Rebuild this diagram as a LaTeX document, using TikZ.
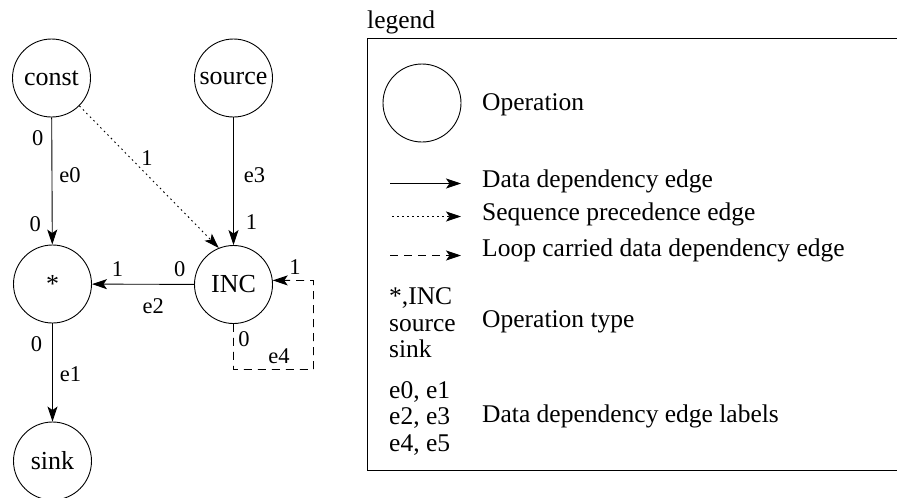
\documentclass[tikz,border=0pt]{standalone}
\usepackage{fontspec}
\setmainfont{Liberation Serif}
\usetikzlibrary{arrows.meta}
\begin{document}
\begin{tikzpicture}[x=1pt,y=-1pt,
  op/.style={draw, circle, minimum size=78pt, inner sep=0pt, line width=0.9pt,
    font=\fontsize{26}{27}\selectfont},
  lbl/.style={font=\fontsize{22.5}{24}\selectfont, inner sep=0pt},
  txt/.style={font=\fontsize{25.5}{26.5}\selectfont, inner sep=0pt, anchor=west, align=left},
  edgearrow/.style={line width=0.9pt, -{Stealth[length=15pt,width=10pt,inset=3.5pt]}},
  dataedge/.style={edgearrow},
  seqedge/.style={edgearrow, dash pattern=on 1.6pt off 3.4pt},
  loopedge/.style={edgearrow, dash pattern=on 8pt off 6pt},
]
\clip (0,0) rectangle (897,498);

% operations
\node[op] (const)  at (51.5,78)   {const};
\node[op] (source) at (233.5,78)  {source};
\node[op] (mul)    at (52.5,284)  {*};
\node[op] (INC)    at (233.5,284.5) {INC};
\node[op] (sink)   at (52.5,461)  {sink};

% data dependency edges
\draw[dataedge] (const) -- (mul)
  node[lbl, pos=0.16, left=8pt] {0}
  node[lbl, pos=0.45, right=7pt] {e0}
  node[lbl, pos=0.84, left=11pt] {0};
\draw[dataedge] (source) -- (INC)
  node[lbl, pos=0.45, right=10pt] {e3}
  node[lbl, pos=0.82, right=12pt] {1};
\draw[dataedge] (INC) -- (mul)
  node[lbl, pos=0.14, above=7pt] {0}
  node[lbl, pos=0.75, above=7pt] {1}
  node[lbl, pos=0.40, below=14pt] {e2};
\draw[dataedge] (mul) -- (sink)
  node[lbl, pos=0.21, left=10pt] {0}
  node[lbl, pos=0.52, right=7pt] {e1};

% sequence precedence edge
\draw[seqedge] (const.-45) -- (INC.112)
  node[lbl, pos=0.37, right=10pt] {1};

% loop carried edge
\coordinate (loopbr) at (313.5,369.5);
\coordinate (looptr) at (313.5,280.5);
\draw[loopedge] (INC.south) |- (loopbr) -- (looptr) -- (INC.6);
\node[lbl] (p1) at (295,267) {1};
\node[lbl] (p0) at (244,339) {0};
\node[lbl] (e4) at (279,356) {e4};

% legend
\node[txt] (legtitle) at (367,22) {legend};
\draw[line width=0.9pt] (367.5,38.5) rectangle (905,470.5);
\node[op] (opsym) at (422,103) {};
\node[txt] (t1) at (482,105) {Operation};
\coordinate (s1a) at (390,183.5); \coordinate (s1b) at (461,183.5);
\coordinate (s2a) at (392,216.5); \coordinate (s2b) at (461,216.5);
\coordinate (s3a) at (390,255.5); \coordinate (s3b) at (461,255.5);
\draw[dataedge] (s1a) -- (s1b);
\draw[seqedge] (s2a) -- (s2b);
\draw[loopedge] (s3a) -- (s3b);
\node[txt] (t2) at (482,181) {Data dependency edge};
\node[txt] (t3) at (482,214) {Sequence precedence edge};
\node[txt] (t4) at (482,250) {Loop carried data dependency edge};
\node[txt] (k5) at (389,323) {*,INC\\source\\sink};
\node[txt] (t5) at (482,322) {Operation type};
\node[txt] (k6) at (389,418) {e0, e1\\e2, e3\\e4, e5};
\node[txt] (t6) at (482,416) {Data dependency edge labels};
\end{tikzpicture}
\end{document}
